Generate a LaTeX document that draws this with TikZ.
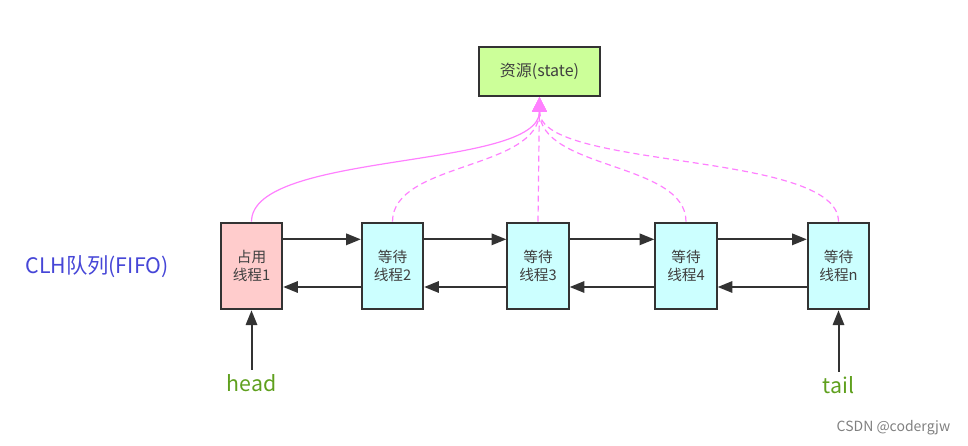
\documentclass[tikz,border=0pt]{standalone}
\usepackage{fontspec}
\setmainfont{Noto Sans CJK SC}
\usetikzlibrary{arrows.meta}

\begin{document}
\begin{tikzpicture}[x=0.75pt,y=-0.75pt,>={Triangle[length=11pt,width=8.5pt]}]
\colorlet{rand}{black!80}
\definecolor{rosa}{RGB}{255,128,255}
\definecolor{hellgruen}{RGB}{204,255,153}
\definecolor{hellrot}{RGB}{255,204,204}
\definecolor{hellblau}{RGB}{204,255,255}
\definecolor{blau}{RGB}{70,70,215}
\definecolor{gruen}{RGB}{95,160,30}
\tikzstyle{kasten}=[draw=rand,line width=1.5pt,inner sep=1pt,align=center,text=black!75]
\tikzstyle{thread}=[kasten,minimum width=46pt,minimum height=65pt,font=\fontsize{11pt}{13pt}\selectfont]
\tikzstyle{pf}=[->,line width=1.5pt,rand]
\tikzstyle{res}=[rosa,line width=0.9pt,-{Triangle[length=11pt,width=11pt]}]
\tikzstyle{wartet}=[res,dash pattern=on 4.5pt off 3pt]
\tikzstyle{zeiger}=[text=gruen,font=\fontsize{16pt}{18pt}\selectfont]

\useasboundingbox (0,0) rectangle (968,446);

\node[kasten,fill=hellgruen,minimum width=91pt,minimum height=37pt,font=\fontsize{12pt}{14pt}\selectfont] (state) at (539.5,71.5) {资源(state)};

\node[thread,fill=hellrot] (t1) at (251.5,266) {占用\\线程1};
\node[thread,fill=hellblau] (t2) at (392.5,266) {等待\\线程2};
\node[thread,fill=hellblau] (t3) at (538,266) {等待\\线程3};
\node[thread,fill=hellblau] (t4) at (686,266) {等待\\线程4};
\node[thread,fill=hellblau] (tn) at (838.5,266) {等待\\线程n};

\node[text=blau,font=\fontsize{16pt}{18pt}\selectfont] (clh) at (97,267) {CLH队列(FIFO)};
\node[zeiger] (head) at (251.5,383) {head};
\node[zeiger] (tail) at (838.5,385) {tail};
\node[text=black!50,font=\fontsize{10.5pt}{12pt}\selectfont,anchor=east] (csdn) at (955,428) {CSDN @codergjw};

% vor und zurueck
\foreach \a/\b in {t1/t2,t2/t3,t3/t4,t4/tn}{
  \draw[pf] ([yshift=20pt]\a.east) -- ([yshift=20pt]\b.west);
  \draw[pf] ([yshift=-15.75pt]\b.west) -- ([yshift=-15.75pt]\a.east);
}

\draw[pf] (head) -- (t1);
\draw[pf] (tail) -- (tn);

% alle wollen die Ressource
\draw[res] (t1.north) .. controls +(0,-71) and +(0,73) .. (state.south);
\draw[wartet] (t2.north) .. controls +(0,-60) and +(0,73) .. (state.south);
\draw[wartet] (t3.north) -- (state.south);
\draw[wartet] (t4.north) .. controls +(0,-60) and +(0,73) .. (state.south);
\draw[wartet] (tn.north) .. controls +(0,-71) and +(0,73) .. (state.south);
\end{tikzpicture}
\end{document}
